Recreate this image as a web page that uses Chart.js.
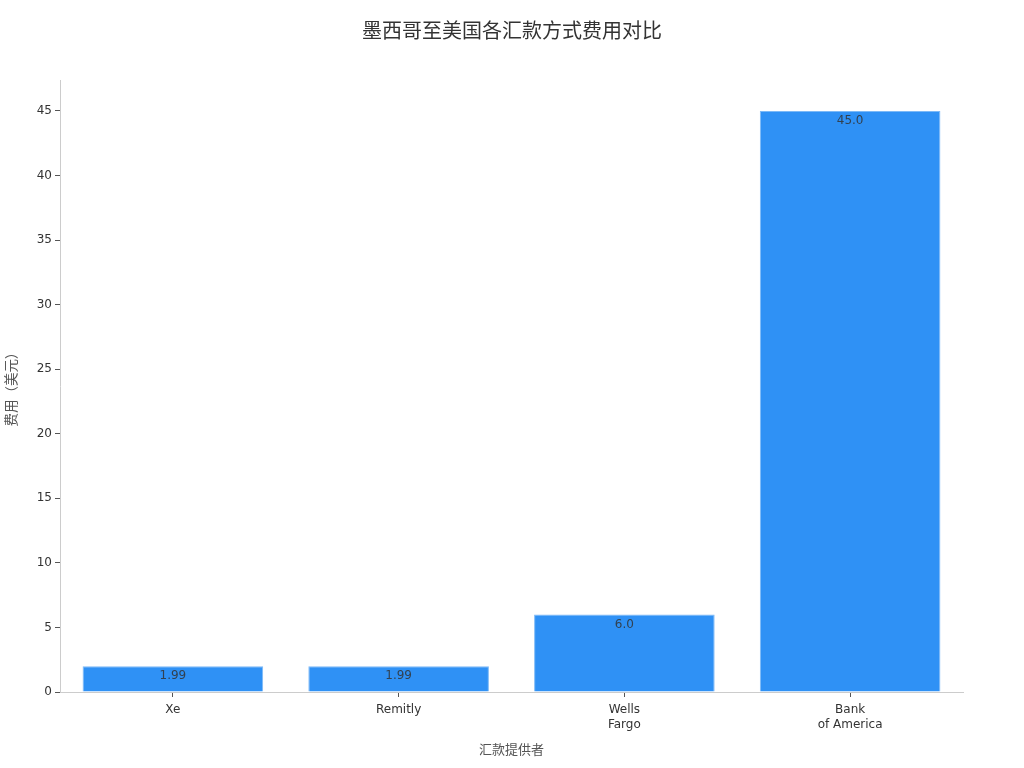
<!DOCTYPE html>
<html>
<head>
<meta charset="utf-8">
<script src="https://cdn.jsdelivr.net/npm/chart.js@4/dist/chart.umd.min.js"></script>
<style>
  html, body { margin: 0; padding: 0; background: #fff; }
  canvas { display: block; }
</style>
</head>
<body>
<canvas id="chart" width="1024" height="768"></canvas>
<script>
// data
const providers = [["Xe"], ["Remitly"], ["Wells", "Fargo"], ["Bank", "of America"]];
const fees = [1.99, 1.99, 6.0, 45.0];
const yTicks = [0, 5, 10, 15, 20, 25, 30, 35, 40, 45];
const chartTitle = "墨西哥至美国各汇款方式费用对比";

const FONT = "'DejaVu Sans', 'Noto Sans CJK SC', sans-serif";

// title centred on the whole canvas, not on the padded box
const pageTitle = {
  id: "pageTitle",
  afterDraw(chart) {
    const { ctx } = chart;
    ctx.save();
    ctx.font = "20px " + FONT;
    ctx.fillStyle = "#333";
    ctx.textAlign = "center";
    ctx.textBaseline = "middle";
    ctx.fillText(chartTitle, chart.width / 2, 33);
    ctx.restore();
  },
};

// value labels just under the top of each bar
const barLabels = {
  id: "barLabels",
  afterDatasetsDraw(chart) {
    const { ctx } = chart;
    const meta = chart.getDatasetMeta(0);
    ctx.save();
    ctx.font = "12px " + FONT;
    ctx.fillStyle = "rgba(51, 51, 51, 0.85)";
    ctx.textAlign = "center";
    ctx.textBaseline = "middle";
    meta.data.forEach((bar, i) => {
      const v = fees[i];
      const text = v % 1 === 0 ? v.toFixed(1) : String(v);
      ctx.fillText(text, bar.x, bar.y + 10);
    });
    ctx.restore();
  },
};

new Chart(document.getElementById("chart"), {
  type: "bar",
  data: {
    labels: providers,
    datasets: [
      {
        data: fees,
        backgroundColor: "#2f91f5",
        borderColor: "#7cb9f7",
        borderWidth: 1,
        barPercentage: 0.8,
        categoryPercentage: 1,
      },
    ],
  },
  options: {
    responsive: false,
    animation: false,
    devicePixelRatio: 1,
    layout: { padding: { left: 0, right: 61, top: 80, bottom: 0 } },
    plugins: {
      legend: { display: false },
      tooltip: { enabled: false },
      title: { display: false },
    },
    scales: {
      x: {
        grid: { drawOnChartArea: false, offset: false, tickLength: 5, color: "#555" },
        border: { display: true, color: "#ccc" },
        ticks: { color: "#333", font: { family: FONT, size: 12 }, padding: 6 },
        title: {
          display: true,
          text: "汇款提供者",
          color: "#555",
          font: { family: FONT, size: 13 },
          padding: { top: 10, bottom: 10 },
        },
        afterFit(scale) { scale.height = 76; },
      },
      y: {
        min: 0,
        max: 47.4,
        grid: { drawOnChartArea: false, tickLength: 5, color: "#555" },
        border: { display: true, color: "#ccc" },
        ticks: { color: "#333", font: { family: FONT, size: 12 }, padding: 3 },
        afterBuildTicks(scale) { scale.ticks = yTicks.map((v) => ({ value: v })); },
        title: {
          display: true,
          text: "费用（美元）",
          color: "#555",
          font: { family: FONT, size: 13.5 },
          padding: { top: 4, bottom: 4 },
        },
        afterFit(scale) { scale.width = 60; },
      },
    },
  },
  plugins: [pageTitle, barLabels],
});
</script>
</body>
</html>
